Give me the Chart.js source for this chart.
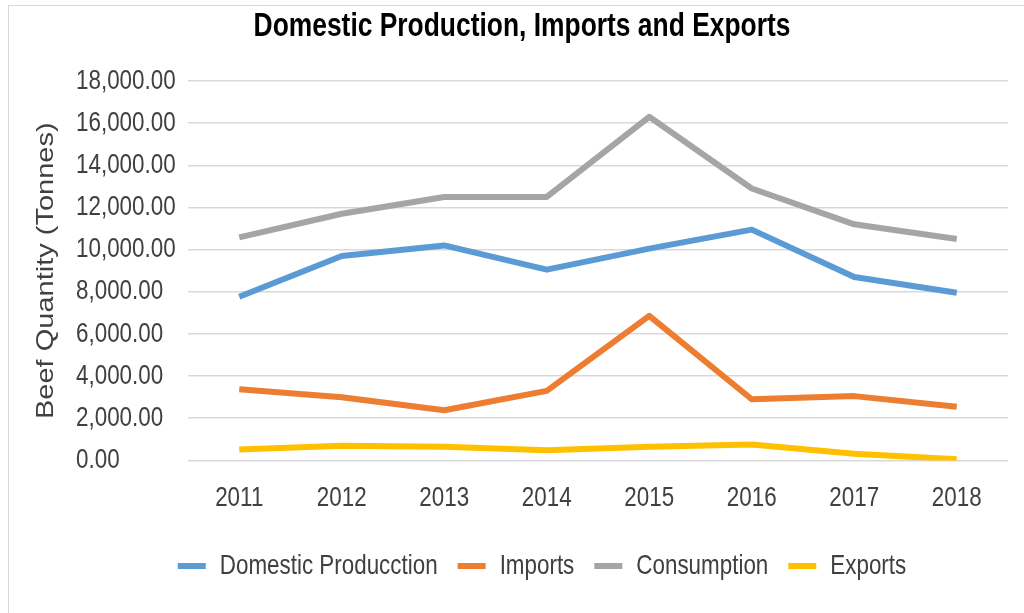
<!DOCTYPE html>
<html>
<head>
<meta charset="utf-8">
<script src="https://cdn.jsdelivr.net/npm/chart.js@4"></script>
<style>
  html, body { margin: 0; padding: 0; background: #fff; }
  #wrap { position: relative; width: 1024px; height: 613px; }
</style>
</head>
<body>
<div id="wrap"><canvas id="chart" width="1024" height="613"></canvas></div>
<script>
// Beef quantities per year (tonnes)
const years = ['2011', '2012', '2013', '2014', '2015', '2016', '2017', '2018'];
const domestic = [7760, 9700, 10200, 9050, 10050, 10950, 8700, 7950];
const imports = [3380, 3000, 2380, 3300, 6860, 2900, 3050, 2550];
const consumption = [10580, 11700, 12500, 12500, 16300, 12900, 11200, 10500];
const exports = [520, 700, 650, 480, 650, 750, 320, 50];

const seriesNames = ['Domestic Producction', 'Imports', 'Consumption', 'Exports'];
const seriesColors = ['#5B9BD5', '#ED7D31', '#A5A5A5', '#FFC000'];
const yTicks = [0, 2000, 4000, 6000, 8000, 10000, 12000, 14000, 16000, 18000];

const chartTitle = 'Domestic Production, Imports and Exports';
const yTitle = 'Beef Quantity (Tonnes)';

const font = '"Liberation Sans", Arial, sans-serif';

// no narrow font installed, so squeeze all text horizontally (measuring too, so layout agrees)
const SQUEEZE = 0.8;
const canvas = document.getElementById('chart');
const ctx = canvas.getContext('2d');
const rawFillText = ctx.fillText;
const rawMeasureText = ctx.measureText;
ctx.fillText = function (text, x, y) {
    this.save();
    this.translate(x, y);
    this.scale(SQUEEZE, 1);
    rawFillText.call(this, text, 0, 0);
    this.restore();
};
ctx.measureText = function (text) {
    const m = rawMeasureText.call(this, text);
    return {
        width: m.width * SQUEEZE,
        actualBoundingBoxLeft: m.actualBoundingBoxLeft * SQUEEZE,
        actualBoundingBoxRight: m.actualBoundingBoxRight * SQUEEZE,
        actualBoundingBoxAscent: m.actualBoundingBoxAscent,
        actualBoundingBoxDescent: m.actualBoundingBoxDescent,
        fontBoundingBoxAscent: m.fontBoundingBoxAscent,
        fontBoundingBoxDescent: m.fontBoundingBoxDescent
    };
};

// frame, title and rotated y axis title
const decorations = {
    id: 'decorations',
    beforeDraw(chart) {
        const c = chart.ctx;
        c.save();
        c.fillStyle = '#fff';
        c.fillRect(0, 0, chart.width, chart.height);
        c.strokeStyle = '#d9d9d9';
        c.lineWidth = 1;
        c.strokeRect(8.5, 5.5, chart.width + 20, chart.height + 20);
        c.restore();
    },
    afterDraw(chart) {
        const c = chart.ctx;
        const area = chart.chartArea;
        c.save();
        c.font = 'bold 33px ' + font;
        c.fillStyle = '#000';
        c.textAlign = 'center';
        c.textBaseline = 'middle';
        c.fillText(chartTitle, 522, 27);
        c.restore();

        c.save();
        c.translate(47, (area.top + area.bottom) / 2);
        c.rotate(-Math.PI / 2);
        c.scale(1, SQUEEZE);
        c.font = '29px ' + font;
        c.fillStyle = '#404040';
        c.textAlign = 'center';
        c.textBaseline = 'middle';
        rawFillText.call(c, yTitle, 0, 0);
        c.restore();
    }
};

const datasets = [domestic, imports, consumption, exports].map((values, i) => ({
    label: seriesNames[i],
    data: values,
    borderColor: seriesColors[i],
    backgroundColor: seriesColors[i],
    borderWidth: 6,
    pointRadius: 0,
    tension: 0,
    borderJoinStyle: 'round'
}));

new Chart(canvas, {
    type: 'line',
    data: { labels: years, datasets: datasets },
    plugins: [decorations],
    options: {
        responsive: false,
        animation: false,
        layout: { padding: { left: 76, right: 16, top: 81, bottom: 23 } },
        plugins: {
            title: { display: false },
            legend: {
                position: 'bottom',
                labels: {
                    color: '#404040',
                    font: { family: font, size: 28 },
                    boxWidth: 28,
                    boxHeight: 6,
                    padding: 20,
                    generateLabels: chart => Chart.defaults.plugins.legend.labels.generateLabels(chart)
                        .map(item => ({ ...item, lineWidth: 0 }))
                }
            },
            tooltip: { enabled: false }
        },
        scales: {
            x: {
                offset: true,
                grid: { display: false },
                border: { display: false },
                ticks: { color: '#404040', font: { family: font, size: 28 }, padding: 13 },
                afterFit: scale => { scale.height += 4; }
            },
            y: {
                min: 0,
                max: 18000,
                afterBuildTicks: scale => { scale.ticks = yTicks.map(v => ({ value: v })); },
                grid: { color: '#d9d9d9', lineWidth: 1.5, drawTicks: false },
                border: { display: false },
                ticks: {
                    color: '#404040',
                    font: { family: font, size: 28 },
                    crossAlign: 'far',
                    callback: v => Number(v).toLocaleString('en-US', { minimumFractionDigits: 2, maximumFractionDigits: 2 })
                },
                afterFit: scale => { scale.width = 112; }
            }
        }
    }
});
</script>
</body>
</html>
